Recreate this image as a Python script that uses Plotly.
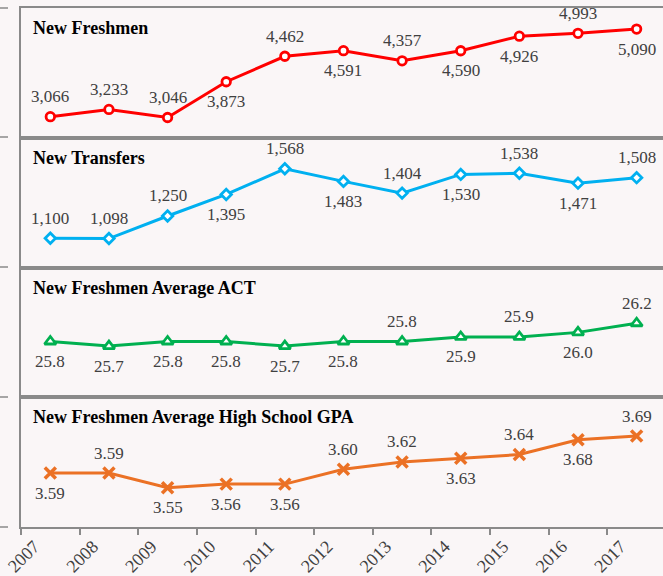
import plotly.graph_objects as go
from plotly.subplots import make_subplots

years = ["2007", "2008", "2009", "2010", "2011", "2012", "2013", "2014", "2015", "2016", "2017"]

freshmen = [3066, 3233, 3046, 3873, 4462, 4591, 4357, 4590, 4926, 4993, 5090]
transfers = [1100, 1098, 1250, 1395, 1568, 1483, 1404, 1530, 1538, 1471, 1508]
act = [25.8, 25.7, 25.8, 25.8, 25.7, 25.8, 25.8, 25.9, 25.9, 26.0, 26.2]
gpa = [3.59, 3.59, 3.55, 3.56, 3.56, 3.60, 3.62, 3.63, 3.64, 3.68, 3.69]

titles = ["New Freshmen", "New Transfers", "New Freshmen Average ACT",
          "New Freshmen Average High School GPA"]

# label placement: "t" = above point, "b" = below point
freshmen_lbl = ["t", "t", "t", "b", "t", "b", "t", "b", "b", "t", "b"]
transfers_lbl = ["t", "t", "t", "b", "t", "b", "t", "b", "t", "b", "t"]
act_lbl = ["b", "b", "b", "b", "b", "b", "t", "b", "t", "b", "t"]
gpa_lbl = ["b", "t", "b", "b", "b", "t", "t", "b", "t", "b", "t"]

BG = "#FAF6F7"
GRID = "#8A8A8A"
FONT = "Liberation Serif"
LABEL_COLOR = "#404040"

series = [
    dict(y=freshmen, lbl=freshmen_lbl, fmt="{:,.0f}", color="#FF0000", symbol="circle",
         size=8.5, fill="#FFFFFF", rng=[2578, 5578]),
    dict(y=transfers, lbl=transfers_lbl, fmt="{:,.0f}", color="#00B0F0", symbol="diamond",
         size=8, fill="#FFFFFF", rng=[903, 1777]),
    dict(y=act, lbl=act_lbl, fmt="{:.1f}", color="#00B050", symbol="triangle-up",
         size=10, fill="#FFFFFF", rng=[24.58, 27.42]),
    dict(y=gpa, lbl=gpa_lbl, fmt="{:.2f}", color="#EB7125", symbol="x-thin",
         size=11, fill="#EB7125", rng=[3.444, 3.795]),
]

fig = make_subplots(rows=4, cols=1, shared_xaxes=True, vertical_spacing=0)

for i, s in enumerate(series, start=1):
    fig.add_trace(go.Scatter(
        x=years, y=s["y"], mode="lines+markers",
        line=dict(color=s["color"], width=3),
        marker=dict(symbol=s["symbol"], size=s["size"], color=s["fill"],
                    line=dict(color=s["color"], width=2.8 if s["symbol"] != "x-thin" else 3.5)),
        showlegend=False, hoverinfo="skip", cliponaxis=False,
    ), row=i, col=1)
    for idx, (v, p) in enumerate(zip(s["y"], s["lbl"])):
        fig.add_annotation(
            x=idx, y=v, text=s["fmt"].format(v), showarrow=False,
            yshift=20 if p == "t" else -20, yanchor="middle", xanchor="center",
            font=dict(family=FONT, size=17, color=LABEL_COLOR),
            row=i, col=1,
        )
    fig.add_annotation(
        xref="paper", yref=f"y{'' if i == 1 else i} domain",
        x=(31 - 21) / 642, y=1 - 20 / 129.75, xanchor="left", yanchor="middle",
        text=f"<b>{titles[i - 1]}</b>", showarrow=False,
        font=dict(family=FONT, size=18, color="#000000"),
    )
    fig.update_yaxes(range=s["rng"], showgrid=False, zeroline=False, showticklabels=False,
                     ticks="", showline=True, linecolor=GRID, linewidth=2, mirror=False,
                     automargin=False, row=i, col=1)
    fig.update_xaxes(type="category", range=[-0.5, 10.45], showgrid=False, zeroline=False,
                     showline=True, linecolor=GRID, linewidth=2, mirror=True,
                     automargin=False, row=i, col=1)

fig.update_xaxes(showticklabels=False, ticks="")
fig.update_xaxes(showticklabels=True, ticks="outside", ticklen=6, tickwidth=1.5, tickcolor=GRID,
                 tickson="boundaries", tickangle=-45, ticklabelshift=-16, ticklabelstandoff=0,
                 tickfont=dict(family=FONT, size=18, color=LABEL_COLOR), row=4, col=1)

# stubs of tick marks visible at the far left edge
for ypx in [8, 137, 267, 397, 527]:
    yp = 1 - (ypx - 8) / 519
    fig.add_shape(type="line", xref="paper", yref="paper",
                  x0=(0 - 21) / 642, x1=(8 - 21) / 642, y0=yp, y1=yp,
                  line=dict(color=GRID, width=1.5))

fig.update_layout(
    width=663, height=576,
    margin=dict(l=21, r=0, t=8, b=49),
    paper_bgcolor=BG, plot_bgcolor=BG,
    font=dict(family=FONT, color=LABEL_COLOR),
)

fig.write_html("out.html", config={"displayModeBar": False},
               post_script="document.body.style.margin='0';document.body.style.overflow='hidden';")
